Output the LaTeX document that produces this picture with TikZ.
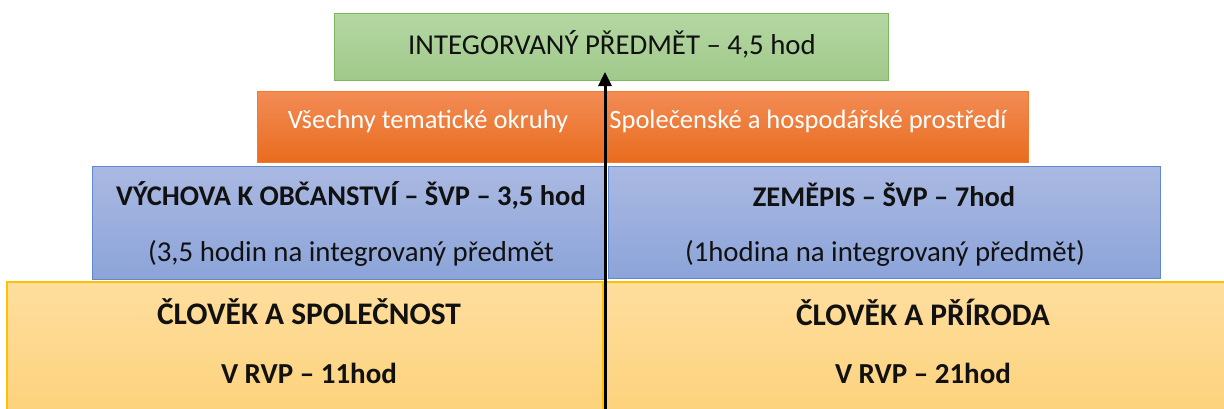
\documentclass[tikz,border=0pt]{standalone}
\usepackage{fontspec}
\setmainfont{Carlito}
\usetikzlibrary{arrows.meta}

\definecolor{grnTop}{HTML}{B5D7A3}
\definecolor{grnBot}{HTML}{A0C98B}
\definecolor{grnLine}{HTML}{7DB85F}
\definecolor{orgTop}{HTML}{F38C55}
\definecolor{orgBot}{HTML}{E86C1E}
\definecolor{orgLine}{HTML}{F07C30}
\definecolor{bluTop}{HTML}{AAB9E2}
\definecolor{bluBot}{HTML}{8CA4D9}
\definecolor{bluLine}{HTML}{5F89CC}
\definecolor{ylwTop}{HTML}{FEDE9E}
\definecolor{ylwBot}{HTML}{FDD27C}
\definecolor{ylwLine}{HTML}{FFC000}
\definecolor{txt}{HTML}{111111}

\tikzset{
  box/.style={draw, line width=1pt, inner sep=0pt, outer sep=0pt, anchor=north west},
  greenbox/.style={box, draw=grnLine, top color=grnTop, bottom color=grnBot},
  orangebox/.style={box, draw=orgLine, top color=orgTop, bottom color=orgBot},
  bluebox/.style={box, draw=bluLine, top color=bluTop, bottom color=bluBot},
  yellowbox/.style={box, draw=ylwLine, line width=1.5pt, top color=ylwTop, bottom color=ylwBot},
  plain/.style={inner sep=0pt, text=txt, font=\fontsize{28.8}{32}\selectfont},
  white/.style={inner sep=0pt, text=white, font=\fontsize{26.5}{30}\selectfont},
  heavy/.style={inner sep=0pt, text=txt, font=\fontsize{28.5}{32}\selectfont\bfseries},
  heavier/.style={inner sep=0pt, text=txt, font=\fontsize{31.4}{34}\selectfont\bfseries},
  hours/.style={inner sep=0pt, text=txt, font=\fontsize{29}{32}\selectfont\bfseries},
}

\begin{document}
\begin{tikzpicture}[x=1pt, y=-1pt]
  \useasboundingbox (0,0) rectangle (1224,408);
  \clip (0,0) rectangle (1224,408);

  % bottom band: educational areas
  \node[yellowbox, minimum width=596pt, minimum height=130pt] (areaL) at (7,282) {};
  \node[yellowbox, minimum width=627pt, minimum height=130pt] (areaR) at (603,282) {};
  \node[heavier] (areaLa) at (309,312) {ČLOVĚK A SPOLEČNOST};
  \node[hours] (areaLb) at (309,373) {V RVP – 11hod};
  \node[heavier] (areaRa) at (923,312) {ČLOVĚK A PŘÍRODA};
  \node[hours] (areaRb) at (923,373) {V RVP – 21hod};

  % school subjects
  \node[bluebox, minimum width=513pt, minimum height=113pt] (subjL) at (92,166) {};
  \node[bluebox, minimum width=552pt, minimum height=112pt] (subjR) at (608,166) {};
  \node[heavy] (subjLa) at (351,195) {VÝCHOVA K OBČANSTVÍ – ŠVP – 3,5 hod};
  \node[plain] (subjLb) at (351,253) {(3,5 hodin na integrovaný předmět};
  \node[heavy] (subjRa) at (884,195) {ZEMĚPIS – ŠVP – 7hod};
  \node[plain] (subjRb) at (885,253) {(1hodina na integrovaný předmět)};

  % thematic areas
  \node[orangebox, minimum width=348pt, minimum height=71pt] (themeL) at (257,91) {};
  \node[orangebox, minimum width=423pt, minimum height=71pt] (themeR) at (605,91) {};
  \node[white] (themeLt) at (428,121) {Všechny tematické okruhy};
  \node[white] (themeRt) at (808,121) {Společenské a hospodářské prostředí};

  % integrated subject
  \node[greenbox, minimum width=554pt, minimum height=67pt] (integ) at (334,13) {};
  \node[plain] (integt) at (612,44) {INTEGORVANÝ PŘEDMĚT – 4,5 hod};

  % upward arrow
  \coordinate (base) at (605,410);
  \coordinate (tip) at (605,72);
  \draw[line width=3pt, -{Triangle[length=14pt,width=13pt]}] (base) -- (tip);
\end{tikzpicture}
\end{document}
